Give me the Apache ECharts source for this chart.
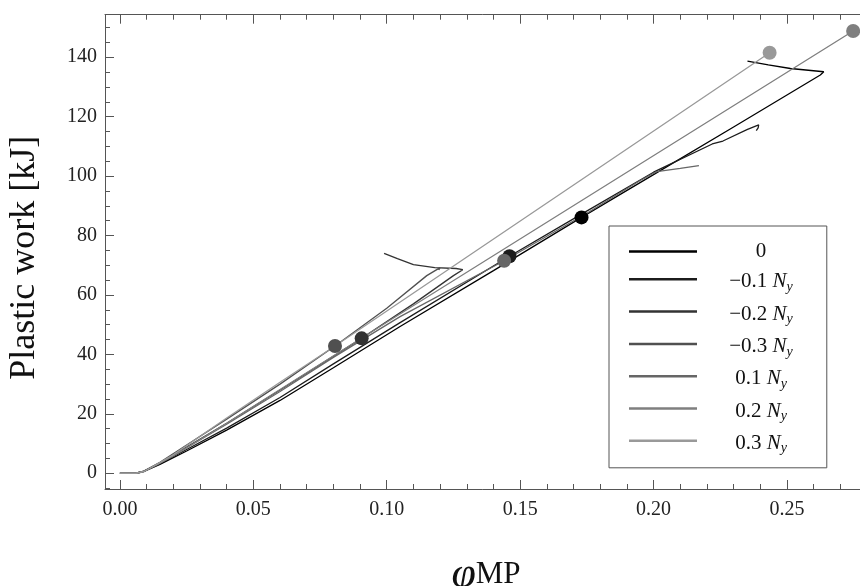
<!DOCTYPE html>
<html><head><meta charset="utf-8">
<script src="https://cdn.jsdelivr.net/npm/echarts@6/dist/echarts.min.js"></script>
<style>html,body{margin:0;padding:0;background:#fff}#c{width:860px;height:586px}</style>
</head><body><div id="c"></div>
<script>
// ---- data ----
const seriesNames = ['0', '-0.1', '-0.2', '-0.3', '0.1', '0.2', '0.3'];
const seriesColors = ['#000000', '#1c1c1c', '#333333', '#505050', '#666666', '#7f7f7f', '#999999'];
const s0 = [[0,0],[0.006,0],[0.009,0.6],[0.015,3],[0.025,7.5],[0.04,14.5],[0.06,24.5],[0.08,35.5],[0.105,49.4],[0.14,68.2],[0.173,86.1],[0.2,100.5],[0.23,116.5],[0.2625,134.0],[0.2638,135.1],[0.2631,135.6],[0.2513,136.2],[0.243,137.4],[0.2352,138.7]];
const s1 = [[0,0],[0.006,0],[0.009,0.6],[0.015,3.2],[0.025,8],[0.04,15.2],[0.06,25.5],[0.08,36.8],[0.105,50.7],[0.146,73],[0.173,87.2],[0.2,101.3],[0.222,110.8],[0.226,111.8],[0.235,115.6],[0.2394,117.2],[0.2392,116.2],[0.2385,115.3]];
const s2 = [[0,0],[0.006,0],[0.009,0.7],[0.015,3.5],[0.025,8.8],[0.04,16.8],[0.06,28],[0.0906,45.4],[0.11,57],[0.125,66.5],[0.1285,68.5],[0.126,68.9],[0.118,69.2],[0.11,70.2],[0.104,72.2],[0.099,74]];
const s3 = [[0,0],[0.006,0],[0.009,0.7],[0.015,3.7],[0.025,9.5],[0.04,18.2],[0.06,30],[0.0806,42.8],[0.1,55.5],[0.115,66.5],[0.12,69.2],[0.1195,68.4]];
const s4 = [[0,0],[0.006,0],[0.009,0.6],[0.015,3.4],[0.025,8.6],[0.04,16.5],[0.06,27.5],[0.08,39],[0.105,52.7],[0.144,71.5],[0.175,87.5],[0.195,98.5],[0.2012,101.5],[0.21,102.6],[0.217,103.5]];
const s5 = [[0,0],[0.006,0],[0.009,0.5],[0.02,5.8],[0.04,16.8],[0.06,28.2],[0.1,50.8],[0.2748,148.8]];
const s6 = [[0,0],[0.006,0],[0.009,0.6],[0.02,6.2],[0.04,18.6],[0.06,30.6],[0.0806,42.8],[0.2435,141.5]];
const dots = [[0.173,86.1],[0.146,73],[0.0906,45.4],[0.0806,42.8],[0.144,71.5],[0.2748,148.8],[0.2435,141.5]];
const xMajor = [0, 0.05, 0.10, 0.15, 0.20, 0.25];
const xMinor = [0,0.01,0.02,0.03,0.04,0.05,0.06,0.07,0.08,0.09,0.10,0.11,0.12,0.13,0.14,0.15,0.16,0.17,0.18,0.19,0.20,0.21,0.22,0.23,0.24,0.25,0.26,0.27];
const yMajor = [0, 20, 40, 60, 80, 100, 120, 140];
const yMinor = [-5,0,5,10,15,20,25,30,35,40,45,50,55,60,65,70,75,80,85,90,95,100,105,110,115,120,125,130,135,140,145,150];
const allSeries = [s0, s1, s2, s3, s4, s5, s6];

const X_MIN = -0.0056, X_MAX = 0.28, Y_MIN = -5.3, Y_MAX = 154.3;
const FONT = 'Liberation Serif';
const axisCol = '#555';
const TICK_FS = 20;

function xAx(pos, vals, len, labels, line) {
  return {
    type: 'value', position: pos, min: X_MIN, max: X_MAX, gridIndex: 0,
    axisLine: {show: line, onZero: false, lineStyle: {color: axisCol, width: 1}},
    axisTick: {show: true, inside: true, length: len, customValues: vals, lineStyle: {color: axisCol, width: 1}},
    axisLabel: labels ? {show: true, customValues: xMajor, formatter: v => v.toFixed(2), fontFamily: FONT, fontSize: TICK_FS, color: '#222', margin: 11} : {show: false},
    splitLine: {show: false}
  };
}
function yAx(pos, vals, len, labels, line) {
  return {
    type: 'value', position: pos, min: Y_MIN, max: Y_MAX, gridIndex: 0,
    axisLine: {show: line, onZero: false, lineStyle: {color: axisCol, width: 1}},
    axisTick: {show: vals !== null, inside: true, length: len, customValues: vals || [], lineStyle: {color: axisCol, width: 1}},
    axisLabel: labels ? {show: true, customValues: yMajor, fontFamily: FONT, fontSize: TICK_FS, color: '#222', margin: 8} : {show: false},
    splitLine: {show: false}
  };
}

const xAxes = [xAx('bottom', xMajor, 9, true, true), xAx('bottom', xMinor, 5, false, false), xAx('top', xMajor, 9, false, true), xAx('top', xMinor, 5, false, false)];
xAxes[0].name = '{p|φ}{m|MP}';
xAxes[0].nameLocation = 'middle';
xAxes[0].nameGap = 65;
xAxes[0].nameTextStyle = {rich: {
  p: {fontFamily: FONT, fontStyle: 'italic', fontSize: 44, lineHeight: 42, color: '#111'},
  m: {fontFamily: FONT, fontSize: 31, lineHeight: 42, color: '#111'}}};
const yAxes = [yAx('left', yMajor, 9, true, true), yAx('left', yMinor, 5, false, false), yAx('right', null, 0, false, true)];
yAxes[0].name = 'Plastic work [kJ]';
yAxes[0].nameLocation = 'middle';
yAxes[0].nameGap = 62;
yAxes[0].nameTextStyle = {fontFamily: FONT, fontSize: 36, color: '#111', padding: [0, 12, 0, 0]};

const legendLabel = n => n === '0' ? '{t|0}' : '{t|' + n.replace('-', '\u2212') + ' }{n|N}{s|y}';

const series = allSeries.map((d, i) => ({
  name: seriesNames[i], type: 'line', data: d, symbol: 'none', showSymbol: false,
  xAxisIndex: 0, yAxisIndex: 0, smooth: false,
  lineStyle: {color: seriesColors[i], width: 1.3}, itemStyle: {color: seriesColors[i]},
  z: 2
}));
dots.forEach((p, i) => series.push({
  name: 'dot' + i, type: 'scatter', data: [p], symbol: 'circle', symbolSize: 14,
  itemStyle: {color: seriesColors[i], opacity: 1}, xAxisIndex: 0, yAxisIndex: 0, z: 3, silent: true
}));

const chart = echarts.init(document.getElementById('c'), null, {renderer: 'canvas'});
chart.setOption({
  animation: false,
  backgroundColor: '#fff',
  grid: {left: 105, right: -7, top: 14.7, bottom: 97, containLabel: false, outerBoundsMode: 'none'},
  xAxis: xAxes,
  yAxis: yAxes,
  legend: {
    data: seriesNames, orient: 'vertical', left: 609, top: 226,
    padding: [15, 34, 12, 20], itemGap: 9.3, itemWidth: 68, itemHeight: 2.5, icon: 'rect',
    borderColor: '#555', borderWidth: 1, backgroundColor: '#fff',
    formatter: legendLabel, selectedMode: false,
    textStyle: {width: 118, height: 20, fontFamily: FONT, fontSize: 21, color: '#111',
      rich: {
        t: {fontFamily: FONT, fontSize: 21, color: '#111', align: 'center', lineHeight: 20},
        n: {fontFamily: FONT, fontSize: 21, fontStyle: 'italic', color: '#111', align: 'center', lineHeight: 20},
        s: {fontFamily: FONT, fontSize: 14, fontStyle: 'italic', color: '#111', align: 'center', padding: [11, 0, 0, 0]}
      }}
  },
  series: series
});
</script></body></html>
